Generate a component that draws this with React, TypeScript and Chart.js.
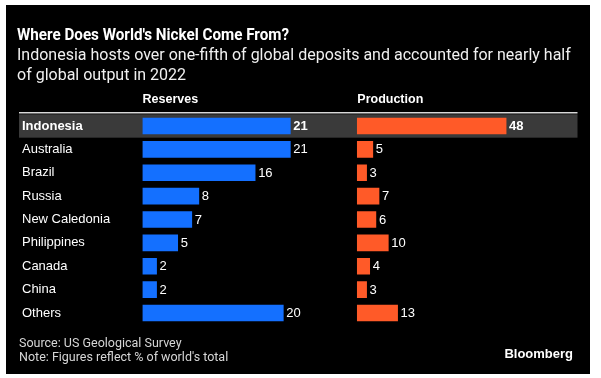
import React, { useEffect, useRef } from "react";
import { Chart, registerables } from "chart.js";

Chart.register(...registerables);

const countries = [
  "Indonesia",
  "Australia",
  "Brazil",
  "Russia",
  "New Caledonia",
  "Philippines",
  "Canada",
  "China",
  "Others",
];
const reserves = [21, 21, 16, 8, 7, 5, 2, 2, 20];
const production = [48, 5, 3, 7, 6, 10, 4, 3, 13];
const seriesNames = ["Reserves", "Production"];
const highlighted = "Indonesia";
const titleText = "Where Does World's Nickel Come From?";
const subtitleLines = [
  "Indonesia hosts over one-fifth of global deposits and accounted for nearly half",
  "of global output in 2022",
];
const footerLines = ["Source: US Geological Survey", "Note: Figures reflect % of world's total"];
const brandText = "Bloomberg";

const BLUE = "#1470ff";
const ORANGE = "#ff5a28";
const LABEL_FONT = "'Liberation Sans', Arial, sans-serif";
const TEXT_FONT = "Roboto, 'Noto Sans', sans-serif";

function fitText(ctx: CanvasRenderingContext2D, text: string, x: number, y: number, width: number) {
  const w = ctx.measureText(text).width;
  const s = Math.min(1, width / w);
  ctx.save();
  ctx.translate(x, y);
  ctx.scale(s, 1);
  ctx.fillText(text, 0, 0);
  ctx.restore();
}

const decorPlugin = {
  id: "decor",
  beforeDraw(chart: any) {
    const ctx = chart.ctx;
    const yScale = chart.scales.y;
    ctx.save();
    ctx.fillStyle = "#ffffff";
    ctx.fillRect(0, 0, chart.width, chart.height);
    ctx.fillStyle = "#000000";
    ctx.fillRect(6, 5, 584, 369);

    const step = yScale.getPixelForValue(1) - yScale.getPixelForValue(0);
    const hi = countries.indexOf(highlighted);
    const yc = yScale.getPixelForValue(hi);
    ctx.fillStyle = "#3a3a3a";
    ctx.fillRect(19, yc - step / 2, 558.5, step);

    ctx.strokeStyle = "#d8d8d8";
    ctx.lineWidth = 1.5;
    ctx.beginPath();
    ctx.moveTo(19, yScale.getPixelForValue(0) - step / 2 - 1.5);
    ctx.lineTo(577.5, yScale.getPixelForValue(0) - step / 2 - 1.5);
    ctx.stroke();
    ctx.restore();
  },
  afterDatasetsDraw(chart: any) {
    const ctx = chart.ctx;
    const yScale = chart.scales.y;
    ctx.save();
    ctx.textBaseline = "alphabetic";
    ctx.textAlign = "left";

    // Title / subtitle
    ctx.fillStyle = "#ffffff";
    ctx.font = `bold 16px ${TEXT_FONT}`;
    fitText(ctx, titleText, 17, 40, 272);
    ctx.fillStyle = "#f0f0f0";
    ctx.font = `16px ${TEXT_FONT}`;
    subtitleLines.forEach((l, i) => ctx.fillText(l, 17, 60 + i * 20));

    // Column headers
    ctx.fillStyle = "#ffffff";
    ctx.font = `bold 12.5px ${LABEL_FONT}`;
    ctx.textBaseline = "middle";
    ctx.fillText(seriesNames[0], chart.scales.xr.getPixelForValue(0), 100);
    ctx.fillText(seriesNames[1], chart.scales.xp.getPixelForValue(0), 100);

    // Row labels
    countries.forEach((c, i) => {
      const y = yScale.getPixelForValue(i);
      ctx.font = `${c === highlighted ? "bold " : ""}13px ${LABEL_FONT}`;
      ctx.fillStyle = "#ffffff";
      ctx.fillText(c, 22, y);
    });

    // Value labels
    chart.data.datasets.forEach((ds: any, di: number) => {
      const meta = chart.getDatasetMeta(di);
      meta.data.forEach((el: any, i: number) => {
        ctx.font = `${countries[i] === highlighted ? "bold " : ""}13px ${LABEL_FONT}`;
        ctx.fillStyle = "#ffffff";
        ctx.fillText(String(ds.data[i]), el.x + 3, el.y + 0.5);
      });
    });

    // Footer
    ctx.textBaseline = "alphabetic";
    ctx.fillStyle = "#d6d6d6";
    ctx.font = `12.5px ${TEXT_FONT}`;
    footerLines.forEach((l, i) => ctx.fillText(l, 19, 347 + i * 14));
    ctx.fillStyle = "#ffffff";
    ctx.font = `bold 13px ${LABEL_FONT}`;
    ctx.textAlign = "right";
    ctx.fillText(brandText, 573, 358);
    ctx.restore();
  },
};

export default function App() {
  const ref = useRef<HTMLCanvasElement | null>(null);
  useEffect(() => {
    document.body.style.margin = "0";
    if (!ref.current) return;
    const left = 142.5;
    const right = 578;
    const rPx = 7.04;
    const pZero = 357.3;
    const pPx = 3.1;
    const chart = new Chart(ref.current, {
      type: "bar",
      data: {
        labels: countries,
        datasets: [
          {
            label: seriesNames[0],
            data: reserves,
            backgroundColor: BLUE,
            xAxisID: "xr",
            grouped: false,
            barThickness: 16,
          } as any,
          {
            label: seriesNames[1],
            data: production,
            backgroundColor: ORANGE,
            xAxisID: "xp",
            grouped: false,
            barThickness: 16,
          } as any,
        ],
      },
      options: {
        indexAxis: "y",
        animation: false,
        responsive: false,
        maintainAspectRatio: false,
        layout: { padding: { left: left, right: 601 - right, top: 114.3, bottom: 378 - 324.7 } },
        plugins: { legend: { display: false }, tooltip: { enabled: false }, title: { display: false } },
        scales: {
          y: { type: "category", display: false, offset: true, grid: { display: false } },
          xr: {
            type: "linear",
            axis: "x",
            display: false,
            min: 0,
            max: (right - left) / rPx,
          } as any,
          xp: {
            type: "linear",
            axis: "x",
            display: false,
            min: -(pZero - left) / pPx,
            max: (right - pZero) / pPx,
          } as any,
        },
      },
      plugins: [decorPlugin],
    });
    return () => chart.destroy();
  }, []);
  return (
    <div style={{ width: 601, height: 378, background: "#fff" }}>
      <canvas ref={ref} width={601} height={378} style={{ display: "block" }} />
    </div>
  );
}
